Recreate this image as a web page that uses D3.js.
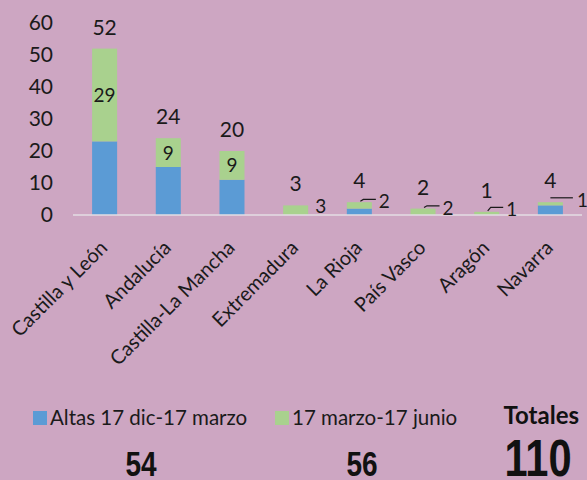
<!DOCTYPE html>
<html>
<head>
<meta charset="utf-8">
<script src="https://cdn.jsdelivr.net/npm/d3@7"></script>
<style>
  body { margin: 0; background: #cda6c2; }
  svg { display: block; font-family: Lato, "Open Sans", sans-serif; }
</style>
</head>
<body>
<div id="chart"></div>
<script>
// data
const regions = ["Castilla y León", "Andalucía", "Castilla-La Mancha", "Extremadura",
                 "La Rioja", "País Vasco", "Aragón", "Navarra"];
const altas = [23, 15, 11, 0, 2, 0, 0, 3];     // Altas 17 dic-17 marzo
const junio = [29, 9, 9, 3, 2, 2, 1, 1];       // 17 marzo-17 junio
const yTicks = [0, 10, 20, 30, 40, 50, 60];
const seriesNames = ["Altas 17 dic-17 marzo", "17 marzo-17 junio"];
const colors = ["#5b9bd5", "#a9d18e"];

const width = 587, height = 480;

let svg = d3.select("#chart").append("svg")
    .attr("width", width)
    .attr("height", height);

// scales
let x = d3.scaleBand().domain(regions).range([73, 582]).paddingInner(0.607).paddingOuter(0.3);
let y = d3.scaleLinear().domain([0, 60]).range([215, 23]);

// y axis labels (no axis line)
let yAxis = svg.append("g")
    .attr("transform", "translate(53,0)")
    .call(d3.axisLeft(y).tickValues(yTicks).tickSize(0).tickPadding(0));
yAxis.select(".domain").remove();
yAxis.selectAll("text")
    .attr("font-family", "Lato, sans-serif")
    .attr("font-size", 21)
    .attr("fill", "#1a1a1a");

// stack the two series
let rows = regions.map((r, i) => ({region: r, altas: altas[i], junio: junio[i]}));
let stacked = d3.stack().keys(["altas", "junio"])(rows);

let barGroup = svg.append("g");
stacked.forEach((layer, k) => {
    barGroup.selectAll(".bar" + k)
        .data(layer)
        .join("rect")
        .attr("class", "bar" + k)
        .attr("x", d => x(d.data.region))
        .attr("width", x.bandwidth())
        .attr("y", d => y(d[1]))
        .attr("height", d => y(d[0]) - y(d[1]))
        .attr("fill", colors[k]);
});

// baseline
svg.append("line")
    .attr("x1", 73).attr("x2", 582)
    .attr("y1", y(0)).attr("y2", y(0))
    .attr("stroke", "#e3dde3")
    .attr("stroke-width", 1.5);

// x labels rotated
let xAxis = svg.append("g")
    .attr("transform", "translate(0," + y(0) + ")")
    .call(d3.axisBottom(x).tickSize(0).tickPadding(0));
xAxis.select(".domain").remove();
xAxis.selectAll("text")
    .attr("font-family", "Lato, sans-serif")
    .attr("font-size", 20)
    .attr("fill", "#1a1a1a")
    .attr("text-anchor", "end")
    .attr("dy", 0)
    .attr("y", 0)
    .attr("transform", "translate(4,34) rotate(-45)");

// total labels above bars
svg.append("g").selectAll("text")
    .data(rows)
    .join("text")
    .attr("x", d => x(d.region) + x.bandwidth() / 2)
    .attr("y", d => y(d.altas + d.junio) - 14)
    .attr("text-anchor", "middle")
    .attr("font-size", 21)
    .attr("fill", "#1a1a1a")
    .text(d => d.altas + d.junio);

// green segment labels
let segLabels = svg.append("g");
rows.forEach((d, i) => {
    let cx = x(d.region) + x.bandwidth() / 2;
    let yMid = y(d.altas + d.junio / 2);
    if (d.junio >= 5) {
        segLabels.append("text")
            .attr("x", cx)
            .attr("y", yMid + 7)
            .attr("text-anchor", "middle")
            .attr("font-size", 19)
            .attr("fill", "#1a1a1a")
            .text(d.junio);
    } else {
        let right = x(d.region) + x.bandwidth();
        let ly = yMid - 4;
        let lx = right + (i === regions.length - 1 ? 14 : 7);
        segLabels.append("text")
            .attr("x", lx)
            .attr("y", ly + 7)
            .attr("font-size", 19)
            .attr("fill", "#1a1a1a")
            .text(d.junio);
        if (d.altas + d.junio > d.junio || i > 3) {
            // leader line
            let top = y(d.altas + d.junio);
            segLabels.append("path")
                .attr("d", i === regions.length - 1
                    ? `M${cx},${ly - 2}H${lx - 4}`
                    : `M${cx + 1},${top - 1}L${cx + 4},${ly - 2}H${lx - 3}`)
                .attr("fill", "none")
                .attr("stroke", "#1a1a1a")
                .attr("stroke-width", 1.2);
        }
    }
});

// legend
let legend = svg.append("g").attr("transform", "translate(0,425)");
let legendX = [33, 275];
seriesNames.forEach((name, k) => {
    legend.append("rect")
        .attr("x", legendX[k]).attr("y", -14)
        .attr("width", 14).attr("height", 14)
        .attr("fill", colors[k]);
    legend.append("text")
        .attr("x", legendX[k] + 17).attr("y", 0)
        .attr("font-size", 20.5)
        .attr("fill", "#1a1a1a")
        .text(name);
});
legend.append("text")
    .attr("x", 579).attr("y", -1)
    .attr("text-anchor", "end")
    .attr("font-size", 24)
    .attr("font-weight", "bold")
    .attr("fill", "#111")
    .text("Totales");

// totals row, condensed bold digits
let sums = [d3.sum(altas), d3.sum(junio), d3.sum(altas) + d3.sum(junio)];
let sumX = [141, 362, 538];
let sumSize = [35, 35, 52];
svg.append("g").selectAll("text")
    .data(sums)
    .join("text")
    .attr("transform", (d, i) => `translate(${sumX[i]},476) scale(0.8,1)`)
    .attr("text-anchor", "middle")
    .attr("font-family", "'Liberation Sans', Arial, sans-serif")
    .attr("font-weight", "bold")
    .attr("font-size", (d, i) => sumSize[i])
    .attr("fill", "#111")
    .text(d => d);
</script>
</body>
</html>
